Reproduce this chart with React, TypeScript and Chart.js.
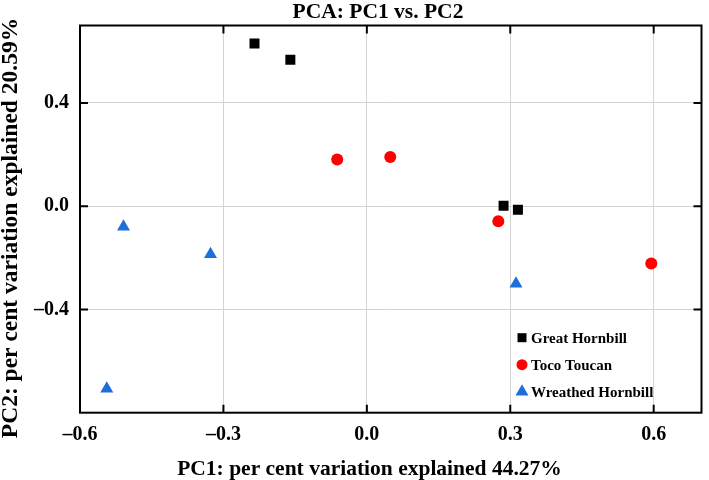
import React, { useEffect, useRef } from 'react';
import { Chart, registerables } from 'chart.js';

Chart.register(...registerables);

const seriesNames = ['Great Hornbill', 'Toco Toucan', 'Wreathed Hornbill'];
const seriesColors = ['#000000', '#ff0000', '#1e6fd9'];
const seriesShapes = ['rect', 'circle', 'triangle'];

const greatX = [-0.235, -0.160, 0.286, 0.316];
const greatY = [0.630, 0.567, 0.002, -0.014];
const toucanX = [-0.062, 0.049, 0.275, 0.595];
const toucanY = [0.181, 0.191, -0.058, -0.222];
const wreathedX = [-0.509, -0.327, -0.544, 0.312];
const wreathedY = [-0.080, -0.186, -0.707, -0.300];

const xTicks = [-0.6, -0.3, 0.0, 0.3, 0.6];
const yTicks = [-0.4, 0.0, 0.4];

const chartTitle = 'PCA: PC1 vs. PC2';
const xTitle = 'PC1: per cent variation explained 44.27%';
const yTitle = 'PC2: per cent variation explained 20.59%';

const SERIF = '"Liberation Serif", "Times New Roman", serif';

function fmt(v: number): string {
  return (v < 0 ? '\u2013' : '') + Math.abs(v).toFixed(1);
}

function toPoints(xs: number[], ys: number[]) {
  return xs.map((x, i) => ({ x, y: ys[i] }));
}

function drawMarker(ctx: CanvasRenderingContext2D, shape: string, x: number, y: number, color: string) {
  ctx.fillStyle = color;
  ctx.beginPath();
  if (shape === 'rect') {
    ctx.rect(x - 4.5, y - 4.5, 9, 9);
  } else if (shape === 'circle') {
    ctx.arc(x, y, 5.5, 0, Math.PI * 2);
  } else {
    const r = 7.5;
    ctx.moveTo(x, y - r);
    ctx.lineTo(x + 0.866 * r, y + 0.5 * r);
    ctx.lineTo(x - 0.866 * r, y + 0.5 * r);
    ctx.closePath();
  }
  ctx.fill();
}

const decorPlugin = {
  id: 'decor',
  afterDraw(chart: any) {
    const { ctx, chartArea: a, scales } = chart;
    const xs = scales.x;
    const ys = scales.y;
    ctx.save();
    // frame
    ctx.strokeStyle = '#000';
    ctx.lineWidth = 2;
    ctx.strokeRect(a.left, a.top, a.right - a.left, a.bottom - a.top);
    // inward ticks on all sides
    const L = 8;
    ctx.beginPath();
    xTicks.forEach((v) => {
      const px = xs.getPixelForValue(v);
      ctx.moveTo(px, a.bottom);
      ctx.lineTo(px, a.bottom - L);
      ctx.moveTo(px, a.top);
      ctx.lineTo(px, a.top + L);
    });
    yTicks.forEach((v) => {
      const py = ys.getPixelForValue(v);
      ctx.moveTo(a.left, py);
      ctx.lineTo(a.left + L, py);
      ctx.moveTo(a.right, py);
      ctx.lineTo(a.right - L, py);
    });
    ctx.stroke();

    // titles
    ctx.fillStyle = '#000';
    ctx.textBaseline = 'middle';
    ctx.textAlign = 'center';
    ctx.font = `bold 21.5px ${SERIF}`;
    ctx.fillText(chartTitle, a.left + 298, 12);
    ctx.font = `bold 21.5px ${SERIF}`;
    ctx.fillText(xTitle, a.left + 289.5, 469.5);
    ctx.save();
    ctx.translate(11, 228);
    ctx.rotate(-Math.PI / 2);
    ctx.font = `bold 23.5px ${SERIF}`;
    ctx.fillText(yTitle, 0, 0);
    ctx.restore();

    // legend
    ctx.font = `bold 15px ${SERIF}`;
    ctx.textAlign = 'left';
    const lx = a.left + 442;
    const ly0 = a.bottom - 75;
    seriesNames.forEach((name, i) => {
      const yy = ly0 + i * 27;
      drawMarker(ctx, seriesShapes[i], lx, yy, seriesColors[i]);
      ctx.fillStyle = '#000';
      ctx.fillText(name, lx + 9, yy + 1);
    });
    ctx.restore();
  },
};

export default function App() {
  const canvasRef = useRef<HTMLCanvasElement | null>(null);

  useEffect(() => {
    const canvas = canvasRef.current;
    if (!canvas) return;
    const tickFont = { family: SERIF, size: 20, weight: 'bold' as const };
    const chart = new Chart(canvas, {
      type: 'scatter',
      data: {
        datasets: [
          {
            label: seriesNames[0],
            data: toPoints(greatX, greatY),
            pointStyle: 'rect',
            pointRadius: 7.07,
            backgroundColor: seriesColors[0],
            borderColor: seriesColors[0],
            borderWidth: 0,
          },
          {
            label: seriesNames[1],
            data: toPoints(toucanX, toucanY),
            pointStyle: 'circle',
            pointRadius: 6,
            backgroundColor: seriesColors[1],
            borderColor: seriesColors[1],
            borderWidth: 0,
          },
          {
            label: seriesNames[2],
            data: toPoints(wreathedX, wreathedY),
            pointStyle: 'triangle',
            pointRadius: 7.5,
            backgroundColor: seriesColors[2],
            borderColor: seriesColors[2],
            borderWidth: 0,
          },
        ],
      },
      options: {
        animation: false,
        responsive: false,
        devicePixelRatio: 1,
        layout: { padding: { top: 25.5, right: 2.3, left: 0, bottom: 0 } },
        plugins: {
          legend: { display: false },
          tooltip: { enabled: false },
          title: { display: false },
        },
        scales: {
          x: {
            type: 'linear',
            min: -0.6,
            max: 0.7,
            afterBuildTicks: (s: any) => {
              s.ticks = xTicks.map((v) => ({ value: v }));
            },
            afterFit: (s: any) => {
              s.height = 67.3;
            },
            ticks: {
              callback: (v: any) => fmt(Number(v)),
              font: tickFont,
              color: '#000',
              padding: 10,
              maxRotation: 0,
              autoSkip: false,
            },
            grid: { color: '#d4d4d4', lineWidth: 1, drawTicks: false },
            border: { display: false },
          },
          y: {
            type: 'linear',
            min: -0.8,
            max: 0.7,
            afterBuildTicks: (s: any) => {
              s.ticks = yTicks.map((v) => ({ value: v }));
            },
            afterFit: (s: any) => {
              s.width = 80;
            },
            ticks: {
              callback: (v: any) => fmt(Number(v)),
              font: tickFont,
              color: '#000',
              padding: 11,
              autoSkip: false,
            },
            grid: { color: '#d4d4d4', lineWidth: 1, drawTicks: false },
            border: { display: false },
          },
        },
      },
      plugins: [decorPlugin],
    } as any);
    return () => chart.destroy();
  }, []);

  return (
    <div style={{ position: 'fixed', left: 0, top: 0, width: 709, height: 480, background: '#fff' }}>
      <canvas ref={canvasRef} width={709} height={480} style={{ width: 709, height: 480, display: 'block' }} />
    </div>
  );
}
